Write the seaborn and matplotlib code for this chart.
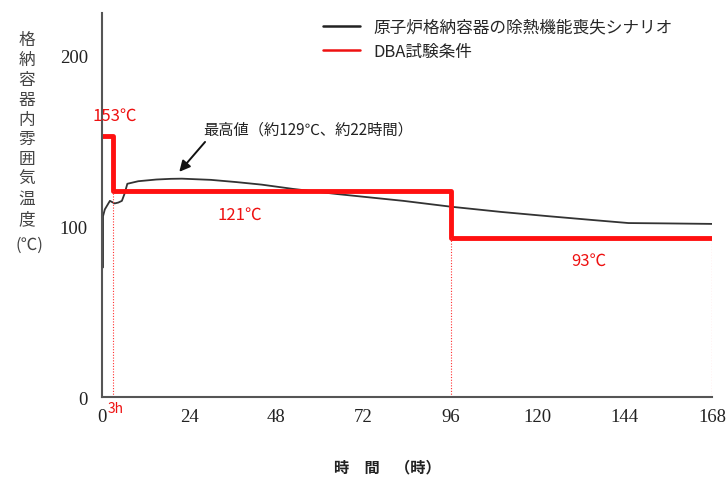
import numpy as np
import pandas as pd
import matplotlib
matplotlib.use("Agg")
from matplotlib import pyplot as plt
from matplotlib.lines import Line2D
import seaborn as sns

# scenario curve
scen_t = [0.3, 0.3, 0.8, 2.2, 3.5, 4.5, 5.5, 6.2, 7.0, 10, 15, 19, 22, 30, 37, 44, 52.6, 64.7, 83, 96, 110, 123, 135, 145, 155, 168]
scen_v = [76, 106, 110, 115, 113.5, 114, 115, 119, 125, 126.5, 127.5, 127.9, 128, 127.3, 126, 124.5, 122, 119, 115, 111.6, 108.5, 106, 103.8, 102, 101.8, 101.5]

# DBA test condition steps
dba_t = [0, 3, 96, 168]
dba_v = [153, 121, 93, 93]

x_ticks = [0, 24, 48, 72, 96, 120, 144, 168]
y_ticks = [0, 100, 200]

scen = pd.DataFrame({"t": scen_t, "v": scen_v})
dba = pd.DataFrame({"t": dba_t, "v": dba_v})

sns.set_style("white")
plt.rcParams['font.family'] = ['Noto Sans CJK JP', 'DejaVu Sans']

fig = plt.figure(figsize=(7.28, 4.85), dpi=100)
ax = fig.add_axes([0.140, 0.179, 0.838, 0.792])

sns.lineplot(data=scen, x="t", y="v", ax=ax, color="#333333", lw=1.3,
             estimator=None, sort=False)
sns.lineplot(data=dba, x="t", y="v", ax=ax, color="#ff1010", lw=3.5,
             estimator=None, drawstyle="steps-post")

# dotted guides down to the axis
for t, v in [(3, 121), (96, 93), (168, 93)]:
    ax.vlines(t, 0, v, colors="#ff3030", linestyles=(0, (1, 1.5)), lw=0.8)

ax.set_xlim(0, 168)
ax.set_ylim(0, 225)
ax.set_xticks(x_ticks)
ax.set_yticks(y_ticks)
ax.set_xlabel("")
ax.set_ylabel("")

for s in ["top", "right"]:
    ax.spines[s].set_visible(False)
for s in ["left", "bottom"]:
    ax.spines[s].set_color("#555555")
    ax.spines[s].set_linewidth(1.5)

ax.tick_params(axis="both", direction="in", colors="#333333", width=1.3,
               labelsize=13.5, labelcolor="#222222")
ax.tick_params(axis="y", length=10, pad=10)
ax.tick_params(axis="x", length=8, pad=8)
for lab in ax.get_xticklabels() + ax.get_yticklabels():
    lab.set_fontfamily("Liberation Serif")

# red labels
ax.text(3.5, 160, "153℃", color="#ee1111", fontsize=12, ha="center", va="bottom")
ax.text(38, 112, "121℃", color="#ee1111", fontsize=12, ha="center", va="top")
ax.text(134, 85, "93℃", color="#ee1111", fontsize=12, ha="center", va="top")
ax.text(3.8, -2, "3h", color="#ee1111", fontsize=10, ha="center", va="top")

ax.text(28, 157, "最高値（約129℃、約22時間）", fontsize=11, color="#222222",
        ha="left", va="center")
ax.annotate("", xy=(21.3, 132), xytext=(28.4, 149.5),
            arrowprops=dict(arrowstyle="-|>", color="#111111", lw=1.4,
                            mutation_scale=16, shrinkA=0, shrinkB=0))

# y label stacked vertically
fig.text(0.037, 0.732, "\n".join("格納容器内雰囲気温度"), fontsize=12,
         color="#444444", ha="center", va="center", linespacing=1.22)
fig.text(0.040, 0.495, "(℃)", fontsize=12, color="#444444", ha="center",
         va="center")
fig.text(0.532, 0.037, "時　間　（時）", fontsize=11, color="#222222",
         ha="center", va="center", fontweight="bold")

handles = [Line2D([], [], color="#222222", lw=1.8),
           Line2D([], [], color="#ee1111", lw=1.8)]
ax.legend(handles, ["原子炉格納容器の除熱機能喪失シナリオ", "DBA試験条件"],
          loc="upper left", bbox_to_anchor=(0.338, 1.025), frameon=False,
          fontsize=12, handlelength=2.2, labelspacing=0.45)

fig.savefig("out.png", dpi=100)
